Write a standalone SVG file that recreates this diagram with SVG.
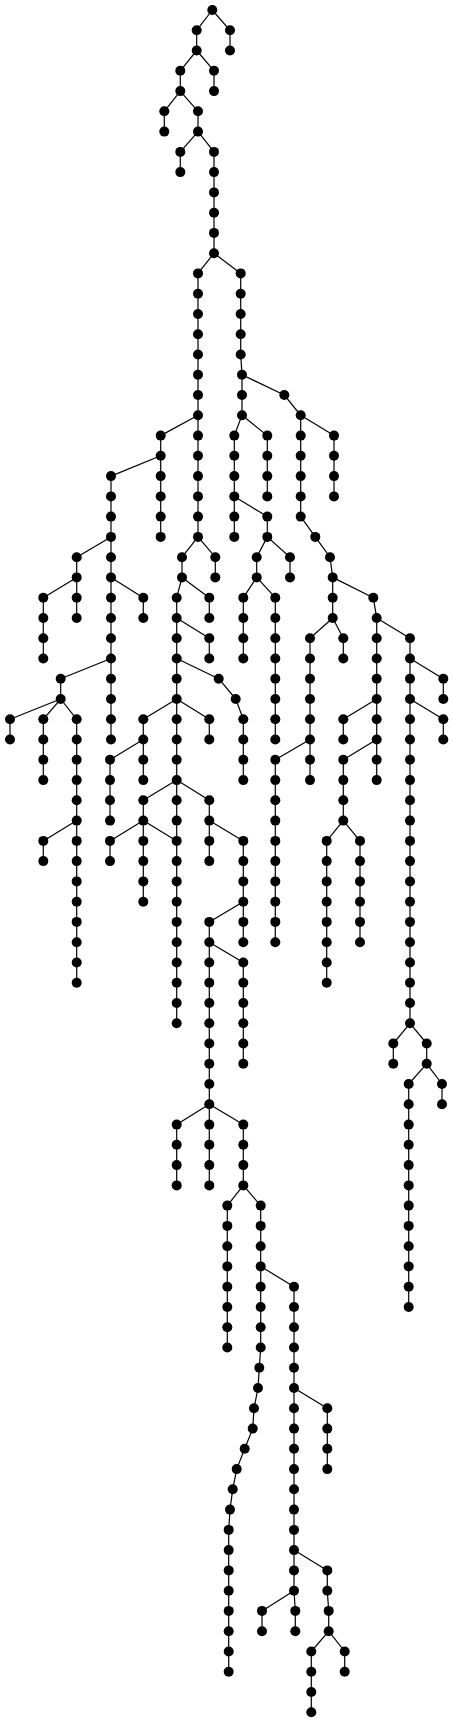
<svg xmlns="http://www.w3.org/2000/svg" width="454" height="1723" viewBox="0 0 454 1723">
<style>
.edges path{stroke:#000;stroke-width:1.2;fill:none}
.node circle{fill:#000}
</style>
<rect width="454" height="1723" fill="#fff"/>
<g id="connectors" class="edges">
<path d="M212.3 10L196.7 30.3"/><path d="M212.3 10L230 30.3"/><path d="M196.7 30.3V50.5"/><path d="M230 30.3V50.5"/>
<path d="M196.7 50.5L180.3 70.8"/><path d="M196.7 50.5L214 70.8"/><path d="M180.3 70.8V91.1"/><path d="M214 70.8V91.1"/>
<path d="M180.3 91.1L164.3 111.3"/><path d="M180.3 91.1L198 111.3"/><path d="M164.3 111.3V131.6"/><path d="M198 111.3V131.6"/>
<path d="M198 131.6L180.3 151.9"/><path d="M198 131.6L214 151.9"/><path d="M180.3 151.9V172.1"/><path d="M214 151.9V253.2"/>
<path d="M214 253.2L198 273.4"/><path d="M198 273.4V435.6"/>
<path d="M214 253.2L240.7 273.4"/><path d="M240.7 273.4V354.5"/><path d="M240.7 354.5L242 374.8"/><path d="M242 374.8V415.3"/>
<path d="M242 374.8L284.3 395"/><path d="M284.3 395L300.7 415.3"/>
<path d="M198 415.3L160.7 435.6"/><path d="M160.7 435.6V536.9"/><path d="M160.7 455.8L111 476.1"/><path d="M111 476.1V658.5"/>
<path d="M111 536.9L76.7 557.2"/><path d="M76.7 557.2V618"/><path d="M76.7 577.4L43.3 597.7"/><path d="M43.3 597.7V658.5"/>
<path d="M111 577.4L143.3 597.7"/><path d="M143.3 597.7V618"/>
<path d="M111 658.5L60.7 678.7"/><path d="M60.7 678.7V699"/><path d="M60.7 699L10 719.3"/><path d="M10 719.3V739.5"/>
<path d="M60.7 699L43.3 719.3"/><path d="M43.3 719.3V780.1"/><path d="M60.7 699L76.7 719.3"/><path d="M76.7 719.3V982.7"/>
<path d="M76.7 820.6L43.3 840.9"/><path d="M43.3 840.9V861.1"/>
<path d="M111 658.5V739.5"/>
<path d="M198 435.6V536.9"/><path d="M198 536.9L182 557.2"/><path d="M182 557.2V577.4"/><path d="M198 536.9L215.3 557.2"/><path d="M215.3 557.2V577.4"/>
<path d="M182 577.4L209.3 597.7"/><path d="M209.3 597.7V618"/><path d="M182 577.4L176.7 597.7"/><path d="M176.7 597.7V1023.3"/>
<path d="M176.7 618L209.3 638.2"/><path d="M209.3 638.2V658.5"/>
<path d="M176.7 658.5L218.7 678.7"/><path d="M218.7 678.7L235.7 699"/><path d="M235.7 699L243.3 719.3"/><path d="M243.3 719.3V780.1"/>
<path d="M176.7 699L143.3 719.3"/><path d="M143.3 719.3V780.1"/><path d="M143.3 739.5L110 759.8"/><path d="M110 759.8V820.6"/>
<path d="M176.7 699L209.3 719.3"/><path d="M209.3 719.3V739.5"/>
<path d="M176.7 780.1L143.3 800.3"/><path d="M143.3 800.3V901.7"/><path d="M143.3 820.6L110 840.9"/><path d="M110 840.9V861.1"/>
<path d="M143.3 820.6L176.7 840.9"/>
<path d="M176.7 780.1L209.3 800.3"/><path d="M209.3 800.3V861.1"/><path d="M209.3 820.6L243.3 840.9"/><path d="M243.3 840.9V942.2"/>
<path d="M243.3 901.7L209.3 921.9"/><path d="M209.3 921.9V1185.4"/><path d="M209.3 942.2L243.3 962.5"/><path d="M243.3 962.5V1063.8"/>
<path d="M209.3 1104.3L176.7 1124.6"/><path d="M176.7 1124.6V1185.4"/><path d="M209.3 1104.3L243.3 1124.6"/><path d="M243.3 1124.6V1185.4"/>
<path d="M243.3 1185.4L227.3 1205.6"/><path d="M227.3 1205.6V1347.5"/><path d="M243.3 1185.4L260.7 1205.6"/><path d="M260.7 1205.6V1347.5"/>
<path d="M260.7 1347.5L259.3 1367.8L258 1388L254 1408.3L252.7 1428.6L244.7 1448.8L236.7 1469.1L232.7 1489.3L230 1509.6L228.7 1529.9V1671.7"/>
<path d="M260.7 1266.4L294 1286.7"/><path d="M294 1286.7V1590.7"/><path d="M294 1388L327.3 1408.3"/><path d="M327.3 1408.3V1469.1"/>
<path d="M294 1590.7L262 1610.9"/><path d="M262 1610.9V1631.2"/><path d="M294 1590.7L295.3 1610.9"/><path d="M295.3 1610.9V1631.2"/>
<path d="M294 1550.1L327.3 1570.4"/><path d="M327.3 1570.4V1590.7"/><path d="M327.3 1590.7L328.7 1610.9"/><path d="M328.7 1610.9V1631.2"/>
<path d="M328.7 1631.2L311.3 1651.5"/><path d="M311.3 1651.5V1712.3"/><path d="M328.7 1631.2L344.7 1651.5"/><path d="M344.7 1651.5V1671.7"/>
<path d="M242 415.3L234.3 435.6"/><path d="M234.3 435.6V536.9"/><path d="M234.3 496.4L267.3 516.6"/><path d="M267.3 516.6V536.9"/>
<path d="M267.3 536.9L256.7 557.2"/><path d="M256.7 557.2V577.4"/><path d="M256.7 577.4L243.3 597.7"/><path d="M243.3 597.7V658.5"/>
<path d="M256.7 577.4L275.3 597.7"/><path d="M275.3 597.7V739.5"/><path d="M267.3 536.9L290 557.2"/><path d="M290 557.2V577.4"/>
<path d="M242 415.3L267.3 435.6"/><path d="M267.3 435.6V496.4"/>
<path d="M300.7 415.3L334 435.6"/><path d="M334 435.6V496.4"/><path d="M300.7 415.3V516.6"/>
<path d="M300.7 516.6L315.3 536.9L330 557.2L332.7 577.4V618"/><path d="M332.7 618L343.3 638.2"/><path d="M343.3 638.2V658.5"/>
<path d="M332.7 618L310 638.2"/><path d="M310 638.2V780.1"/><path d="M310 739.5L275.3 759.8"/><path d="M275.3 759.8V942.2"/>
<path d="M332.7 577.4L373.3 597.7"/><path d="M373.3 597.7L376.7 618"/><path d="M376.7 618V780.1"/>
<path d="M376.7 699L343.3 719.3"/><path d="M343.3 719.3V739.5"/><path d="M376.7 739.5L343.3 759.8"/><path d="M343.3 759.8V820.6"/>
<path d="M343.3 820.6L326.7 840.9"/><path d="M326.7 840.9V982.7"/><path d="M343.3 820.6L360 840.9"/><path d="M360 840.9V942.2"/>
<path d="M376.7 618L410 638.2"/><path d="M410 638.2V1023.3"/><path d="M410 658.5L443.3 678.7"/><path d="M443.3 678.7V699"/>
<path d="M410 699L443.3 719.3"/><path d="M443.3 719.3V739.5"/>
<path d="M410 1023.3L393.3 1043.5"/><path d="M393.3 1043.5V1063.8"/><path d="M410 1023.3L426.7 1043.5"/><path d="M426.7 1043.5V1063.8"/>
<path d="M426.7 1063.8L442 1084"/><path d="M442 1084V1104.3"/><path d="M426.7 1063.8L408.7 1084"/><path d="M408.7 1084V1307"/>
</g>
<g class="node">
<g id="n0"><circle cx="212.3" cy="10" r="5"/></g>
<g id="n1"><circle cx="196.7" cy="30.3" r="5"/></g>
<g id="n2"><circle cx="230" cy="30.3" r="5"/></g>
<g id="n3"><circle cx="196.7" cy="50.5" r="5"/></g>
<g id="n4"><circle cx="230" cy="50.5" r="5"/></g>
<g id="n5"><circle cx="180.3" cy="70.8" r="5"/></g>
<g id="n6"><circle cx="214" cy="70.8" r="5"/></g>
<g id="n7"><circle cx="180.3" cy="91.1" r="5"/></g>
<g id="n8"><circle cx="214" cy="91.1" r="5"/></g>
<g id="n9"><circle cx="164.3" cy="111.3" r="5"/></g>
<g id="n10"><circle cx="198" cy="111.3" r="5"/></g>
<g id="n11"><circle cx="164.3" cy="131.6" r="5"/></g>
<g id="n12"><circle cx="198" cy="131.6" r="5"/></g>
<g id="n13"><circle cx="180.3" cy="151.9" r="5"/></g>
<g id="n14"><circle cx="214" cy="151.9" r="5"/></g>
<g id="n15"><circle cx="180.3" cy="172.1" r="5"/></g>
<g id="n16"><circle cx="214" cy="172.1" r="5"/></g>
<g id="n17"><circle cx="214" cy="192.4" r="5"/></g>
<g id="n18"><circle cx="214" cy="212.7" r="5"/></g>
<g id="n19"><circle cx="214" cy="232.9" r="5"/></g>
<g id="n20"><circle cx="214" cy="253.2" r="5"/></g>
<g id="n21"><circle cx="198" cy="273.4" r="5"/></g>
<g id="n22"><circle cx="198" cy="293.7" r="5"/></g>
<g id="n23"><circle cx="198" cy="314" r="5"/></g>
<g id="n24"><circle cx="198" cy="334.2" r="5"/></g>
<g id="n25"><circle cx="198" cy="354.5" r="5"/></g>
<g id="n26"><circle cx="198" cy="374.8" r="5"/></g>
<g id="n27"><circle cx="198" cy="395" r="5"/></g>
<g id="n28"><circle cx="198" cy="415.3" r="5"/></g>
<g id="n29"><circle cx="240.7" cy="273.4" r="5"/></g>
<g id="n30"><circle cx="240.7" cy="293.7" r="5"/></g>
<g id="n31"><circle cx="240.7" cy="314" r="5"/></g>
<g id="n32"><circle cx="240.7" cy="334.2" r="5"/></g>
<g id="n33"><circle cx="240.7" cy="354.5" r="5"/></g>
<g id="n34"><circle cx="242" cy="374.8" r="5"/></g>
<g id="n35"><circle cx="242" cy="395" r="5"/></g>
<g id="n36"><circle cx="284.3" cy="395" r="5"/></g>
<g id="n37"><circle cx="242" cy="415.3" r="5"/></g>
<g id="n38"><circle cx="300.7" cy="415.3" r="5"/></g>
<g id="n39"><circle cx="160.7" cy="435.6" r="5"/></g>
<g id="n40"><circle cx="198" cy="435.6" r="5"/></g>
<g id="n41"><circle cx="160.7" cy="455.8" r="5"/></g>
<g id="n42"><circle cx="160.7" cy="476.1" r="5"/></g>
<g id="n43"><circle cx="160.7" cy="496.4" r="5"/></g>
<g id="n44"><circle cx="160.7" cy="516.6" r="5"/></g>
<g id="n45"><circle cx="160.7" cy="536.9" r="5"/></g>
<g id="n46"><circle cx="111" cy="476.1" r="5"/></g>
<g id="n47"><circle cx="111" cy="496.4" r="5"/></g>
<g id="n48"><circle cx="111" cy="516.6" r="5"/></g>
<g id="n49"><circle cx="111" cy="536.9" r="5"/></g>
<g id="n50"><circle cx="76.7" cy="557.2" r="5"/></g>
<g id="n51"><circle cx="76.7" cy="577.4" r="5"/></g>
<g id="n52"><circle cx="43.3" cy="597.7" r="5"/></g>
<g id="n53"><circle cx="43.3" cy="618" r="5"/></g>
<g id="n54"><circle cx="43.3" cy="638.2" r="5"/></g>
<g id="n55"><circle cx="43.3" cy="658.5" r="5"/></g>
<g id="n56"><circle cx="76.7" cy="597.7" r="5"/></g>
<g id="n57"><circle cx="76.7" cy="618" r="5"/></g>
<g id="n58"><circle cx="111" cy="557.2" r="5"/></g>
<g id="n59"><circle cx="111" cy="577.4" r="5"/></g>
<g id="n60"><circle cx="143.3" cy="597.7" r="5"/></g>
<g id="n61"><circle cx="143.3" cy="618" r="5"/></g>
<g id="n62"><circle cx="111" cy="597.7" r="5"/></g>
<g id="n63"><circle cx="111" cy="618" r="5"/></g>
<g id="n64"><circle cx="111" cy="638.2" r="5"/></g>
<g id="n65"><circle cx="111" cy="658.5" r="5"/></g>
<g id="n66"><circle cx="60.7" cy="678.7" r="5"/></g>
<g id="n67"><circle cx="60.7" cy="699" r="5"/></g>
<g id="n68"><circle cx="10" cy="719.3" r="5"/></g>
<g id="n69"><circle cx="10" cy="739.5" r="5"/></g>
<g id="n70"><circle cx="43.3" cy="719.3" r="5"/></g>
<g id="n71"><circle cx="43.3" cy="739.5" r="5"/></g>
<g id="n72"><circle cx="43.3" cy="759.8" r="5"/></g>
<g id="n73"><circle cx="43.3" cy="780.1" r="5"/></g>
<g id="n74"><circle cx="76.7" cy="719.3" r="5"/></g>
<g id="n75"><circle cx="76.7" cy="739.5" r="5"/></g>
<g id="n76"><circle cx="76.7" cy="759.8" r="5"/></g>
<g id="n77"><circle cx="76.7" cy="780.1" r="5"/></g>
<g id="n78"><circle cx="76.7" cy="800.3" r="5"/></g>
<g id="n79"><circle cx="76.7" cy="820.6" r="5"/></g>
<g id="n80"><circle cx="43.3" cy="840.9" r="5"/></g>
<g id="n81"><circle cx="43.3" cy="861.1" r="5"/></g>
<g id="n82"><circle cx="76.7" cy="840.9" r="5"/></g>
<g id="n83"><circle cx="76.7" cy="861.1" r="5"/></g>
<g id="n84"><circle cx="76.7" cy="881.4" r="5"/></g>
<g id="n85"><circle cx="76.7" cy="901.7" r="5"/></g>
<g id="n86"><circle cx="76.7" cy="921.9" r="5"/></g>
<g id="n87"><circle cx="76.7" cy="942.2" r="5"/></g>
<g id="n88"><circle cx="76.7" cy="962.5" r="5"/></g>
<g id="n89"><circle cx="76.7" cy="982.7" r="5"/></g>
<g id="n90"><circle cx="111" cy="678.7" r="5"/></g>
<g id="n91"><circle cx="111" cy="699" r="5"/></g>
<g id="n92"><circle cx="111" cy="719.3" r="5"/></g>
<g id="n93"><circle cx="111" cy="739.5" r="5"/></g>
<g id="n94"><circle cx="198" cy="455.8" r="5"/></g>
<g id="n95"><circle cx="198" cy="476.1" r="5"/></g>
<g id="n96"><circle cx="198" cy="496.4" r="5"/></g>
<g id="n97"><circle cx="198" cy="516.6" r="5"/></g>
<g id="n98"><circle cx="198" cy="536.9" r="5"/></g>
<g id="n99"><circle cx="182" cy="557.2" r="5"/></g>
<g id="n100"><circle cx="182" cy="577.4" r="5"/></g>
<g id="n101"><circle cx="215.3" cy="557.2" r="5"/></g>
<g id="n102"><circle cx="215.3" cy="577.4" r="5"/></g>
<g id="n103"><circle cx="209.3" cy="597.7" r="5"/></g>
<g id="n104"><circle cx="209.3" cy="618" r="5"/></g>
<g id="n105"><circle cx="176.7" cy="597.7" r="5"/></g>
<g id="n106"><circle cx="176.7" cy="618" r="5"/></g>
<g id="n107"><circle cx="209.3" cy="638.2" r="5"/></g>
<g id="n108"><circle cx="209.3" cy="658.5" r="5"/></g>
<g id="n109"><circle cx="176.7" cy="638.2" r="5"/></g>
<g id="n110"><circle cx="176.7" cy="658.5" r="5"/></g>
<g id="n111"><circle cx="218.7" cy="678.7" r="5"/></g>
<g id="n112"><circle cx="235.7" cy="699" r="5"/></g>
<g id="n113"><circle cx="243.3" cy="719.3" r="5"/></g>
<g id="n114"><circle cx="243.3" cy="739.5" r="5"/></g>
<g id="n115"><circle cx="243.3" cy="759.8" r="5"/></g>
<g id="n116"><circle cx="243.3" cy="780.1" r="5"/></g>
<g id="n117"><circle cx="176.7" cy="678.7" r="5"/></g>
<g id="n118"><circle cx="176.7" cy="699" r="5"/></g>
<g id="n119"><circle cx="143.3" cy="719.3" r="5"/></g>
<g id="n120"><circle cx="143.3" cy="739.5" r="5"/></g>
<g id="n121"><circle cx="110" cy="759.8" r="5"/></g>
<g id="n122"><circle cx="110" cy="780.1" r="5"/></g>
<g id="n123"><circle cx="110" cy="800.3" r="5"/></g>
<g id="n124"><circle cx="110" cy="820.6" r="5"/></g>
<g id="n125"><circle cx="143.3" cy="759.8" r="5"/></g>
<g id="n126"><circle cx="143.3" cy="780.1" r="5"/></g>
<g id="n127"><circle cx="209.3" cy="719.3" r="5"/></g>
<g id="n128"><circle cx="209.3" cy="739.5" r="5"/></g>
<g id="n129"><circle cx="176.7" cy="719.3" r="5"/></g>
<g id="n130"><circle cx="176.7" cy="739.5" r="5"/></g>
<g id="n131"><circle cx="176.7" cy="759.8" r="5"/></g>
<g id="n132"><circle cx="176.7" cy="780.1" r="5"/></g>
<g id="n133"><circle cx="143.3" cy="800.3" r="5"/></g>
<g id="n134"><circle cx="143.3" cy="820.6" r="5"/></g>
<g id="n135"><circle cx="110" cy="840.9" r="5"/></g>
<g id="n136"><circle cx="110" cy="861.1" r="5"/></g>
<g id="n137"><circle cx="143.3" cy="840.9" r="5"/></g>
<g id="n138"><circle cx="143.3" cy="861.1" r="5"/></g>
<g id="n139"><circle cx="143.3" cy="881.4" r="5"/></g>
<g id="n140"><circle cx="143.3" cy="901.7" r="5"/></g>
<g id="n141"><circle cx="176.7" cy="840.9" r="5"/></g>
<g id="n142"><circle cx="176.7" cy="861.1" r="5"/></g>
<g id="n143"><circle cx="176.7" cy="881.4" r="5"/></g>
<g id="n144"><circle cx="176.7" cy="901.7" r="5"/></g>
<g id="n145"><circle cx="176.7" cy="921.9" r="5"/></g>
<g id="n146"><circle cx="176.7" cy="942.2" r="5"/></g>
<g id="n147"><circle cx="176.7" cy="962.5" r="5"/></g>
<g id="n148"><circle cx="176.7" cy="982.7" r="5"/></g>
<g id="n149"><circle cx="176.7" cy="1003" r="5"/></g>
<g id="n150"><circle cx="176.7" cy="1023.3" r="5"/></g>
<g id="n151"><circle cx="176.7" cy="800.3" r="5"/></g>
<g id="n152"><circle cx="176.7" cy="820.6" r="5"/></g>
<g id="n153"><circle cx="209.3" cy="800.3" r="5"/></g>
<g id="n154"><circle cx="209.3" cy="820.6" r="5"/></g>
<g id="n155"><circle cx="209.3" cy="840.9" r="5"/></g>
<g id="n156"><circle cx="209.3" cy="861.1" r="5"/></g>
<g id="n157"><circle cx="243.3" cy="840.9" r="5"/></g>
<g id="n158"><circle cx="243.3" cy="861.1" r="5"/></g>
<g id="n159"><circle cx="243.3" cy="881.4" r="5"/></g>
<g id="n160"><circle cx="243.3" cy="901.7" r="5"/></g>
<g id="n161"><circle cx="243.3" cy="921.9" r="5"/></g>
<g id="n162"><circle cx="243.3" cy="942.2" r="5"/></g>
<g id="n163"><circle cx="209.3" cy="921.9" r="5"/></g>
<g id="n164"><circle cx="209.3" cy="942.2" r="5"/></g>
<g id="n165"><circle cx="243.3" cy="962.5" r="5"/></g>
<g id="n166"><circle cx="243.3" cy="982.7" r="5"/></g>
<g id="n167"><circle cx="243.3" cy="1003" r="5"/></g>
<g id="n168"><circle cx="243.3" cy="1023.3" r="5"/></g>
<g id="n169"><circle cx="243.3" cy="1043.5" r="5"/></g>
<g id="n170"><circle cx="243.3" cy="1063.8" r="5"/></g>
<g id="n171"><circle cx="209.3" cy="962.5" r="5"/></g>
<g id="n172"><circle cx="209.3" cy="982.7" r="5"/></g>
<g id="n173"><circle cx="209.3" cy="1003" r="5"/></g>
<g id="n174"><circle cx="209.3" cy="1023.3" r="5"/></g>
<g id="n175"><circle cx="209.3" cy="1043.5" r="5"/></g>
<g id="n176"><circle cx="209.3" cy="1063.8" r="5"/></g>
<g id="n177"><circle cx="209.3" cy="1084" r="5"/></g>
<g id="n178"><circle cx="209.3" cy="1104.3" r="5"/></g>
<g id="n179"><circle cx="176.7" cy="1124.6" r="5"/></g>
<g id="n180"><circle cx="176.7" cy="1144.8" r="5"/></g>
<g id="n181"><circle cx="176.7" cy="1165.1" r="5"/></g>
<g id="n182"><circle cx="176.7" cy="1185.4" r="5"/></g>
<g id="n183"><circle cx="209.3" cy="1124.6" r="5"/></g>
<g id="n184"><circle cx="209.3" cy="1144.8" r="5"/></g>
<g id="n185"><circle cx="209.3" cy="1165.1" r="5"/></g>
<g id="n186"><circle cx="209.3" cy="1185.4" r="5"/></g>
<g id="n187"><circle cx="243.3" cy="1124.6" r="5"/></g>
<g id="n188"><circle cx="243.3" cy="1144.8" r="5"/></g>
<g id="n189"><circle cx="243.3" cy="1165.1" r="5"/></g>
<g id="n190"><circle cx="243.3" cy="1185.4" r="5"/></g>
<g id="n191"><circle cx="227.3" cy="1205.6" r="5"/></g>
<g id="n192"><circle cx="227.3" cy="1225.9" r="5"/></g>
<g id="n193"><circle cx="227.3" cy="1246.2" r="5"/></g>
<g id="n194"><circle cx="227.3" cy="1266.4" r="5"/></g>
<g id="n195"><circle cx="227.3" cy="1286.7" r="5"/></g>
<g id="n196"><circle cx="227.3" cy="1307" r="5"/></g>
<g id="n197"><circle cx="227.3" cy="1327.2" r="5"/></g>
<g id="n198"><circle cx="227.3" cy="1347.5" r="5"/></g>
<g id="n199"><circle cx="260.7" cy="1205.6" r="5"/></g>
<g id="n200"><circle cx="260.7" cy="1225.9" r="5"/></g>
<g id="n201"><circle cx="260.7" cy="1246.2" r="5"/></g>
<g id="n202"><circle cx="260.7" cy="1266.4" r="5"/></g>
<g id="n203"><circle cx="260.7" cy="1286.7" r="5"/></g>
<g id="n204"><circle cx="260.7" cy="1307" r="5"/></g>
<g id="n205"><circle cx="260.7" cy="1327.2" r="5"/></g>
<g id="n206"><circle cx="260.7" cy="1347.5" r="5"/></g>
<g id="n207"><circle cx="259.3" cy="1367.8" r="5"/></g>
<g id="n208"><circle cx="258" cy="1388" r="5"/></g>
<g id="n209"><circle cx="254" cy="1408.3" r="5"/></g>
<g id="n210"><circle cx="252.7" cy="1428.6" r="5"/></g>
<g id="n211"><circle cx="244.7" cy="1448.8" r="5"/></g>
<g id="n212"><circle cx="236.7" cy="1469.1" r="5"/></g>
<g id="n213"><circle cx="232.7" cy="1489.3" r="5"/></g>
<g id="n214"><circle cx="230" cy="1509.6" r="5"/></g>
<g id="n215"><circle cx="228.7" cy="1529.9" r="5"/></g>
<g id="n216"><circle cx="228.7" cy="1550.1" r="5"/></g>
<g id="n217"><circle cx="228.7" cy="1570.4" r="5"/></g>
<g id="n218"><circle cx="228.7" cy="1590.7" r="5"/></g>
<g id="n219"><circle cx="228.7" cy="1610.9" r="5"/></g>
<g id="n220"><circle cx="228.7" cy="1631.2" r="5"/></g>
<g id="n221"><circle cx="228.7" cy="1651.5" r="5"/></g>
<g id="n222"><circle cx="228.7" cy="1671.7" r="5"/></g>
<g id="n223"><circle cx="294" cy="1286.7" r="5"/></g>
<g id="n224"><circle cx="294" cy="1307" r="5"/></g>
<g id="n225"><circle cx="294" cy="1327.2" r="5"/></g>
<g id="n226"><circle cx="294" cy="1347.5" r="5"/></g>
<g id="n227"><circle cx="294" cy="1367.8" r="5"/></g>
<g id="n228"><circle cx="294" cy="1388" r="5"/></g>
<g id="n229"><circle cx="327.3" cy="1408.3" r="5"/></g>
<g id="n230"><circle cx="327.3" cy="1428.6" r="5"/></g>
<g id="n231"><circle cx="327.3" cy="1448.8" r="5"/></g>
<g id="n232"><circle cx="327.3" cy="1469.1" r="5"/></g>
<g id="n233"><circle cx="294" cy="1408.3" r="5"/></g>
<g id="n234"><circle cx="294" cy="1428.6" r="5"/></g>
<g id="n235"><circle cx="294" cy="1448.8" r="5"/></g>
<g id="n236"><circle cx="294" cy="1469.1" r="5"/></g>
<g id="n237"><circle cx="294" cy="1489.3" r="5"/></g>
<g id="n238"><circle cx="294" cy="1509.6" r="5"/></g>
<g id="n239"><circle cx="294" cy="1529.9" r="5"/></g>
<g id="n240"><circle cx="294" cy="1550.1" r="5"/></g>
<g id="n241"><circle cx="294" cy="1570.4" r="5"/></g>
<g id="n242"><circle cx="294" cy="1590.7" r="5"/></g>
<g id="n243"><circle cx="262" cy="1610.9" r="5"/></g>
<g id="n244"><circle cx="262" cy="1631.2" r="5"/></g>
<g id="n245"><circle cx="295.3" cy="1610.9" r="5"/></g>
<g id="n246"><circle cx="295.3" cy="1631.2" r="5"/></g>
<g id="n247"><circle cx="327.3" cy="1570.4" r="5"/></g>
<g id="n248"><circle cx="327.3" cy="1590.7" r="5"/></g>
<g id="n249"><circle cx="328.7" cy="1610.9" r="5"/></g>
<g id="n250"><circle cx="328.7" cy="1631.2" r="5"/></g>
<g id="n251"><circle cx="311.3" cy="1651.5" r="5"/></g>
<g id="n252"><circle cx="311.3" cy="1671.7" r="5"/></g>
<g id="n253"><circle cx="311.3" cy="1692" r="5"/></g>
<g id="n254"><circle cx="311.3" cy="1712.3" r="5"/></g>
<g id="n255"><circle cx="344.7" cy="1651.5" r="5"/></g>
<g id="n256"><circle cx="344.7" cy="1671.7" r="5"/></g>
<g id="n257"><circle cx="234.3" cy="435.6" r="5"/></g>
<g id="n258"><circle cx="234.3" cy="455.8" r="5"/></g>
<g id="n259"><circle cx="234.3" cy="476.1" r="5"/></g>
<g id="n260"><circle cx="234.3" cy="496.4" r="5"/></g>
<g id="n261"><circle cx="234.3" cy="516.6" r="5"/></g>
<g id="n262"><circle cx="234.3" cy="536.9" r="5"/></g>
<g id="n263"><circle cx="267.3" cy="516.6" r="5"/></g>
<g id="n264"><circle cx="267.3" cy="536.9" r="5"/></g>
<g id="n265"><circle cx="256.7" cy="557.2" r="5"/></g>
<g id="n266"><circle cx="256.7" cy="577.4" r="5"/></g>
<g id="n267"><circle cx="243.3" cy="597.7" r="5"/></g>
<g id="n268"><circle cx="243.3" cy="618" r="5"/></g>
<g id="n269"><circle cx="243.3" cy="638.2" r="5"/></g>
<g id="n270"><circle cx="243.3" cy="658.5" r="5"/></g>
<g id="n271"><circle cx="275.3" cy="597.7" r="5"/></g>
<g id="n272"><circle cx="275.3" cy="618" r="5"/></g>
<g id="n273"><circle cx="275.3" cy="638.2" r="5"/></g>
<g id="n274"><circle cx="275.3" cy="658.5" r="5"/></g>
<g id="n275"><circle cx="275.3" cy="678.7" r="5"/></g>
<g id="n276"><circle cx="275.3" cy="699" r="5"/></g>
<g id="n277"><circle cx="275.3" cy="719.3" r="5"/></g>
<g id="n278"><circle cx="275.3" cy="739.5" r="5"/></g>
<g id="n279"><circle cx="290" cy="557.2" r="5"/></g>
<g id="n280"><circle cx="290" cy="577.4" r="5"/></g>
<g id="n281"><circle cx="267.3" cy="435.6" r="5"/></g>
<g id="n282"><circle cx="267.3" cy="455.8" r="5"/></g>
<g id="n283"><circle cx="267.3" cy="476.1" r="5"/></g>
<g id="n284"><circle cx="267.3" cy="496.4" r="5"/></g>
<g id="n285"><circle cx="334" cy="435.6" r="5"/></g>
<g id="n286"><circle cx="334" cy="455.8" r="5"/></g>
<g id="n287"><circle cx="334" cy="476.1" r="5"/></g>
<g id="n288"><circle cx="334" cy="496.4" r="5"/></g>
<g id="n289"><circle cx="300.7" cy="435.6" r="5"/></g>
<g id="n290"><circle cx="300.7" cy="455.8" r="5"/></g>
<g id="n291"><circle cx="300.7" cy="476.1" r="5"/></g>
<g id="n292"><circle cx="300.7" cy="496.4" r="5"/></g>
<g id="n293"><circle cx="300.7" cy="516.6" r="5"/></g>
<g id="n294"><circle cx="315.3" cy="536.9" r="5"/></g>
<g id="n295"><circle cx="330" cy="557.2" r="5"/></g>
<g id="n296"><circle cx="332.7" cy="577.4" r="5"/></g>
<g id="n297"><circle cx="332.7" cy="597.7" r="5"/></g>
<g id="n298"><circle cx="332.7" cy="618" r="5"/></g>
<g id="n299"><circle cx="343.3" cy="638.2" r="5"/></g>
<g id="n300"><circle cx="343.3" cy="658.5" r="5"/></g>
<g id="n301"><circle cx="310" cy="638.2" r="5"/></g>
<g id="n302"><circle cx="310" cy="658.5" r="5"/></g>
<g id="n303"><circle cx="310" cy="678.7" r="5"/></g>
<g id="n304"><circle cx="310" cy="699" r="5"/></g>
<g id="n305"><circle cx="310" cy="719.3" r="5"/></g>
<g id="n306"><circle cx="310" cy="739.5" r="5"/></g>
<g id="n307"><circle cx="310" cy="759.8" r="5"/></g>
<g id="n308"><circle cx="310" cy="780.1" r="5"/></g>
<g id="n309"><circle cx="275.3" cy="759.8" r="5"/></g>
<g id="n310"><circle cx="275.3" cy="780.1" r="5"/></g>
<g id="n311"><circle cx="275.3" cy="800.3" r="5"/></g>
<g id="n312"><circle cx="275.3" cy="820.6" r="5"/></g>
<g id="n313"><circle cx="275.3" cy="840.9" r="5"/></g>
<g id="n314"><circle cx="275.3" cy="861.1" r="5"/></g>
<g id="n315"><circle cx="275.3" cy="881.4" r="5"/></g>
<g id="n316"><circle cx="275.3" cy="901.7" r="5"/></g>
<g id="n317"><circle cx="275.3" cy="921.9" r="5"/></g>
<g id="n318"><circle cx="275.3" cy="942.2" r="5"/></g>
<g id="n319"><circle cx="373.3" cy="597.7" r="5"/></g>
<g id="n320"><circle cx="376.7" cy="618" r="5"/></g>
<g id="n321"><circle cx="376.7" cy="638.2" r="5"/></g>
<g id="n322"><circle cx="376.7" cy="658.5" r="5"/></g>
<g id="n323"><circle cx="376.7" cy="678.7" r="5"/></g>
<g id="n324"><circle cx="376.7" cy="699" r="5"/></g>
<g id="n325"><circle cx="343.3" cy="719.3" r="5"/></g>
<g id="n326"><circle cx="343.3" cy="739.5" r="5"/></g>
<g id="n327"><circle cx="376.7" cy="719.3" r="5"/></g>
<g id="n328"><circle cx="376.7" cy="739.5" r="5"/></g>
<g id="n329"><circle cx="376.7" cy="759.8" r="5"/></g>
<g id="n330"><circle cx="376.7" cy="780.1" r="5"/></g>
<g id="n331"><circle cx="343.3" cy="759.8" r="5"/></g>
<g id="n332"><circle cx="343.3" cy="780.1" r="5"/></g>
<g id="n333"><circle cx="343.3" cy="800.3" r="5"/></g>
<g id="n334"><circle cx="343.3" cy="820.6" r="5"/></g>
<g id="n335"><circle cx="326.7" cy="840.9" r="5"/></g>
<g id="n336"><circle cx="326.7" cy="861.1" r="5"/></g>
<g id="n337"><circle cx="326.7" cy="881.4" r="5"/></g>
<g id="n338"><circle cx="326.7" cy="901.7" r="5"/></g>
<g id="n339"><circle cx="326.7" cy="921.9" r="5"/></g>
<g id="n340"><circle cx="326.7" cy="942.2" r="5"/></g>
<g id="n341"><circle cx="326.7" cy="962.5" r="5"/></g>
<g id="n342"><circle cx="326.7" cy="982.7" r="5"/></g>
<g id="n343"><circle cx="360" cy="840.9" r="5"/></g>
<g id="n344"><circle cx="360" cy="861.1" r="5"/></g>
<g id="n345"><circle cx="360" cy="881.4" r="5"/></g>
<g id="n346"><circle cx="360" cy="901.7" r="5"/></g>
<g id="n347"><circle cx="360" cy="921.9" r="5"/></g>
<g id="n348"><circle cx="360" cy="942.2" r="5"/></g>
<g id="n349"><circle cx="410" cy="638.2" r="5"/></g>
<g id="n350"><circle cx="410" cy="658.5" r="5"/></g>
<g id="n351"><circle cx="443.3" cy="678.7" r="5"/></g>
<g id="n352"><circle cx="443.3" cy="699" r="5"/></g>
<g id="n353"><circle cx="410" cy="678.7" r="5"/></g>
<g id="n354"><circle cx="410" cy="699" r="5"/></g>
<g id="n355"><circle cx="443.3" cy="719.3" r="5"/></g>
<g id="n356"><circle cx="443.3" cy="739.5" r="5"/></g>
<g id="n357"><circle cx="410" cy="719.3" r="5"/></g>
<g id="n358"><circle cx="410" cy="739.5" r="5"/></g>
<g id="n359"><circle cx="410" cy="759.8" r="5"/></g>
<g id="n360"><circle cx="410" cy="780.1" r="5"/></g>
<g id="n361"><circle cx="410" cy="800.3" r="5"/></g>
<g id="n362"><circle cx="410" cy="820.6" r="5"/></g>
<g id="n363"><circle cx="410" cy="840.9" r="5"/></g>
<g id="n364"><circle cx="410" cy="861.1" r="5"/></g>
<g id="n365"><circle cx="410" cy="881.4" r="5"/></g>
<g id="n366"><circle cx="410" cy="901.7" r="5"/></g>
<g id="n367"><circle cx="410" cy="921.9" r="5"/></g>
<g id="n368"><circle cx="410" cy="942.2" r="5"/></g>
<g id="n369"><circle cx="410" cy="962.5" r="5"/></g>
<g id="n370"><circle cx="410" cy="982.7" r="5"/></g>
<g id="n371"><circle cx="410" cy="1003" r="5"/></g>
<g id="n372"><circle cx="410" cy="1023.3" r="5"/></g>
<g id="n373"><circle cx="393.3" cy="1043.5" r="5"/></g>
<g id="n374"><circle cx="393.3" cy="1063.8" r="5"/></g>
<g id="n375"><circle cx="426.7" cy="1043.5" r="5"/></g>
<g id="n376"><circle cx="426.7" cy="1063.8" r="5"/></g>
<g id="n377"><circle cx="442" cy="1084" r="5"/></g>
<g id="n378"><circle cx="442" cy="1104.3" r="5"/></g>
<g id="n379"><circle cx="408.7" cy="1084" r="5"/></g>
<g id="n380"><circle cx="408.7" cy="1104.3" r="5"/></g>
<g id="n381"><circle cx="408.7" cy="1124.6" r="5"/></g>
<g id="n382"><circle cx="408.7" cy="1144.8" r="5"/></g>
<g id="n383"><circle cx="408.7" cy="1165.1" r="5"/></g>
<g id="n384"><circle cx="408.7" cy="1185.4" r="5"/></g>
<g id="n385"><circle cx="408.7" cy="1205.6" r="5"/></g>
<g id="n386"><circle cx="408.7" cy="1225.9" r="5"/></g>
<g id="n387"><circle cx="408.7" cy="1246.2" r="5"/></g>
<g id="n388"><circle cx="408.7" cy="1266.4" r="5"/></g>
<g id="n389"><circle cx="408.7" cy="1286.7" r="5"/></g>
<g id="n390"><circle cx="408.7" cy="1307" r="5"/></g>
</g>
</svg>
